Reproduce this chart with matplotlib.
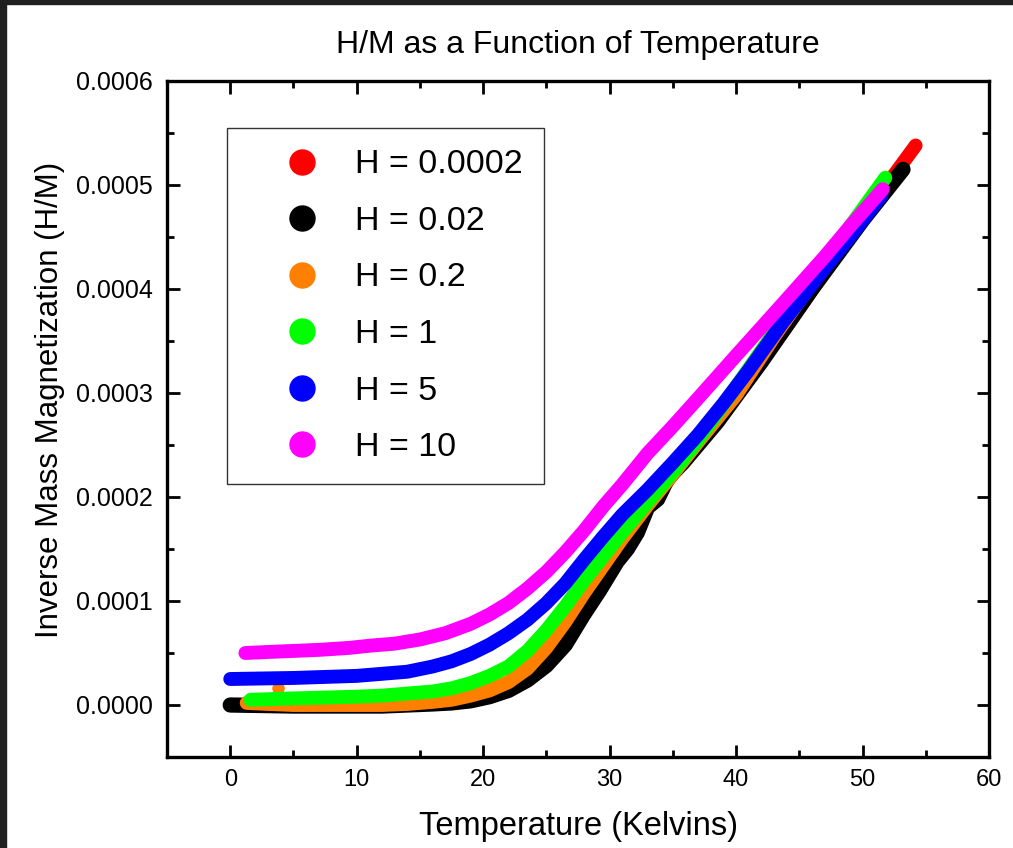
import matplotlib.pyplot as plt
from matplotlib.lines import Line2D
from matplotlib.patches import Rectangle
from matplotlib.ticker import MultipleLocator

plt.rcParams['font.family'] = ['Liberation Sans', 'DejaVu Sans']

# temperature (K) and H/M values (units of 1e-4)
labels = ["H = 0.0002", "H = 0.02", "H = 0.2", "H = 1", "H = 5", "H = 10"]
colors = ["#ff0000", "#000000", "#ff7f00", "#00ff00", "#0000ff", "#ff00ff"]

T_red = [0.5, 5, 10, 14, 17.5, 20.5, 22, 23.5, 25, 26.5, 28, 29.5, 31, 33, 35, 37, 40, 44, 48, 51, 54.2]
v_red = [0.0, -0.01, -0.01, 0.0, 0.03, 0.10, 0.17, 0.28, 0.45, 0.68, 0.98, 1.25, 1.55, 1.90, 2.22, 2.53,
         2.97, 3.64, 4.34, 4.85, 5.38]

T_black = [0, 2.5, 5, 7.5, 10, 12, 14, 16, 17.5, 19, 20.5, 22, 23.5, 25, 26.5, 27.9, 29.2, 30.6, 31.4,
           32.2, 33.0, 33.8, 34.6, 35.8, 38.5, 42, 46, 50, 53.2]
v_black = [0.0, -0.005, -0.01, -0.01, -0.01, -0.01, 0.0, 0.01, 0.02, 0.04, 0.08, 0.14, 0.24, 0.38, 0.58,
           0.86, 1.10, 1.38, 1.50, 1.66, 1.90, 1.98, 2.18, 2.33, 2.72, 3.30, 4.00, 4.66, 5.15]

T_orange = [1.3, 3, 5, 7.5, 10, 12, 14, 16, 17.5, 19, 20.5, 22, 23.5, 25, 26.5, 28, 29.5, 31, 33, 35, 37,
            40, 43, 46, 49, 51.3]
v_orange = [0.02, 0.01, 0.0, 0.0, 0.0, 0.0, 0.01, 0.03, 0.05, 0.09, 0.14, 0.22, 0.35, 0.55, 0.80, 1.08,
            1.34, 1.60, 1.92, 2.22, 2.53, 2.98, 3.54, 4.06, 4.55, 4.90]
T_orange_spike = [3.8]
v_orange_spike = [0.16]

T_green = [1.6, 4, 7, 10, 12, 14, 16, 17.5, 19, 20.5, 22, 23.5, 25, 26.5, 28, 29.5, 31, 33, 35, 37, 40,
           43, 46, 49, 51.8]
v_green = [0.05, 0.06, 0.07, 0.08, 0.09, 0.11, 0.13, 0.16, 0.21, 0.28, 0.37, 0.52, 0.72, 0.95, 1.20,
           1.43, 1.66, 1.95, 2.24, 2.55, 3.06, 3.58, 4.10, 4.60, 5.07]

T_blue = [0, 2.5, 5, 7.5, 10, 12, 14, 16, 17.5, 19, 20.5, 22, 23.5, 25, 26.5, 28, 29.5, 31, 33, 35, 37,
          39, 41, 43.7, 47, 49, 51.5]
v_blue = [0.25, 0.255, 0.26, 0.27, 0.28, 0.30, 0.32, 0.37, 0.42, 0.49, 0.58, 0.69, 0.82, 0.98, 1.17,
          1.40, 1.62, 1.83, 2.07, 2.33, 2.60, 2.90, 3.22, 3.68, 4.20, 4.50, 4.90]

T_magenta = [1.2, 3, 5, 7, 9.5, 11, 13, 15, 17, 19, 20.5, 22, 23.5, 25, 26.5, 28, 29.5, 31, 33, 35, 37,
             40, 43.7, 47, 49, 51.6]
v_magenta = [0.50, 0.51, 0.52, 0.53, 0.55, 0.57, 0.59, 0.63, 0.69, 0.78, 0.87, 0.98, 1.12, 1.28, 1.47,
             1.68, 1.91, 2.12, 2.42, 2.68, 2.95, 3.36, 3.86, 4.31, 4.60, 4.96]

series = [(T_red, v_red), (T_black, v_black), (T_orange, v_orange),
          (T_green, v_green), (T_blue, v_blue), (T_magenta, v_magenta)]

fig = plt.figure(figsize=(10.13, 8.48), dpi=100)
fig.patch.set_facecolor("white")
# dark strip along top and left edge of the screenshot
fig.patches.append(Rectangle((0, 0), 6 / 1013, 1, transform=fig.transFigure, color="#202020", zorder=0))
fig.patches.append(Rectangle((0, 1 - 4 / 848), 1, 4 / 848, transform=fig.transFigure, color="#202020", zorder=0))

ax = fig.add_axes([167 / 1013, 1 - 757 / 848, 822 / 1013, 676 / 848])

for (T, v), c in zip(series, colors):
    lw = 11 if c == "#000000" else 10
    ax.plot(T, [x * 1e-4 for x in v], color=c, lw=lw,
            solid_capstyle="round", solid_joinstyle="round")
    if c == "#ff7f00":
        ax.plot(T_orange_spike, [x * 1e-4 for x in v_orange_spike], "o",
                color=c, ms=8, zorder=1.5)

ax.set_xlim(-5, 60)
ax.set_ylim(-0.00005, 0.0006)
ax.xaxis.set_major_locator(MultipleLocator(10))
ax.xaxis.set_minor_locator(MultipleLocator(5))
ax.yaxis.set_major_locator(MultipleLocator(0.0001))
ax.yaxis.set_minor_locator(MultipleLocator(0.00005))
ax.yaxis.set_major_formatter(plt.FuncFormatter(lambda y, p: "%.4f" % y))

for s in ax.spines.values():
    s.set_linewidth(2.4)
ax.tick_params(which="both", direction="in", top=True, right=True, width=2)
ax.tick_params(which="major", length=9)
ax.tick_params(which="minor", length=5)
ax.tick_params(axis="y", labelsize=18, pad=10)
ax.tick_params(axis="x", labelsize=17, pad=9)

ax.set_title("H/M as a Function of Temperature", fontsize=23, pad=20)
ax.set_xlabel("Temperature (Kelvins)", fontsize=23.5, labelpad=14)
ax.set_ylabel("Inverse Mass Magnetization (H/M)", fontsize=22.5)
ax.yaxis.set_label_coords(-0.124, 0.528)

handles = [Line2D([], [], marker="o", ls="none", color=c, ms=18) for c in colors]
leg = ax.legend(handles, labels, loc="upper left", bbox_to_anchor=(0.073, 0.930),
                borderaxespad=0, fontsize=24.5, frameon=True, fancybox=False,
                edgecolor="black", labelspacing=0.75, handletextpad=0.0,
                borderpad=0.62, handlelength=3.15)
leg.get_frame().set_linewidth(1)

fig.savefig("out.png", dpi=100)
